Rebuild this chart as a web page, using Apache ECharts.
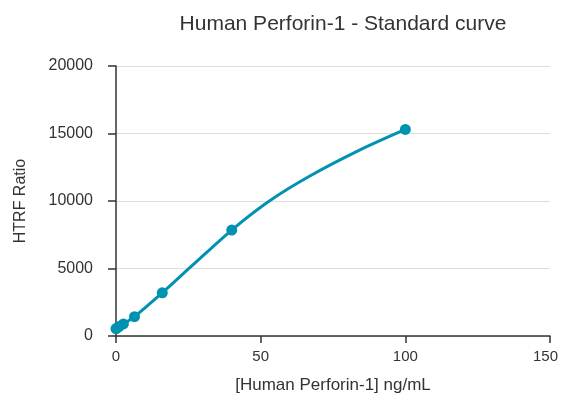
<!DOCTYPE html>
<html><head><meta charset="utf-8">
<script src="https://cdn.jsdelivr.net/npm/echarts@6/dist/echarts.min.js"></script>
<style>html,body{margin:0;padding:0;background:#fff}#c{width:561px;height:401px}</style>
</head><body><div id="c"></div>
<script>
// Measured standards
var concentrations = [0, 0.41, 1.02, 2.56, 6.4, 16, 40, 100];
var htrfRatio = [540, 600, 700, 890, 1430, 3200, 7850, 15300];
// Fitted curve
var curveX = [0, 2.56, 6.4, 16, 26, 40, 53, 67, 84, 100];
var curveY = [540, 890, 1430, 3200, 5150, 7850, 10000, 11850, 13750, 15300];
var xTicks = [0, 50, 100, 150];
var yTicks = [0, 5000, 10000, 15000, 20000];

var chart = echarts.init(document.getElementById('c'));
var points = concentrations.map(function (c, i) { return [c, htrfRatio[i]]; });
var curve = curveX.map(function (c, i) { return [c, curveY[i]]; });
var font = 'Liberation Sans, Arial, sans-serif';
var xMax = xTicks[xTicks.length - 1];
chart.setOption({
  animation: false,
  title: {
    text: 'Human Perforin-1 - Standard curve',
    left: 338, top: 9, textAlign: 'center',
    textStyle: { fontFamily: font, fontSize: 21, fontWeight: 'normal', color: '#333' }
  },
  grid: { left: 116, right: 11, top: 66, bottom: 65, outerBoundsMode: 'none', containLabel: false },
  xAxis: {
    type: 'value', min: xTicks[0], max: xMax, interval: 50,
    name: '[Human Perforin-1] ng/mL', nameLocation: 'middle', nameGap: 41,
    nameTextStyle: { fontFamily: font, fontSize: 17, color: '#333' },
    axisLine: { show: true, onZero: false, lineStyle: { color: '#333', width: 1.5 } },
    axisTick: { show: true, length: 7, lineStyle: { color: '#333', width: 1.5 } },
    axisLabel: { fontFamily: font, fontSize: 15, color: '#333', margin: 13,
      formatter: function (v) { return v === xMax ? '{r|' + v + '}' : String(v); },
      rich: { r: { fontFamily: font, fontSize: 15, color: '#333', padding: [0, 9, 0, 0] } } },
    splitLine: { show: false }
  },
  yAxis: {
    type: 'value', min: yTicks[0], max: yTicks[yTicks.length - 1], interval: 5000,
    name: 'HTRF Ratio', nameLocation: 'middle', nameGap: 87,
    nameTextStyle: { fontFamily: font, fontSize: 16, color: '#333' },
    axisLine: { show: true, onZero: false, lineStyle: { color: '#333', width: 1.5 } },
    axisTick: { show: true, length: 8, lineStyle: { color: '#333', width: 1.5 } },
    axisLabel: { fontFamily: font, fontSize: 16, color: '#333', margin: 23,
      formatter: function (v) { return String(v); } },
    splitLine: { show: true, lineStyle: { color: '#dddddd', width: 1 } }
  },
  series: [{
    type: 'line', data: curve, smooth: 0.3, symbol: 'none',
    lineStyle: { color: '#0092b0', width: 3 }
  }, {
    type: 'scatter', data: points,
    symbol: 'circle', symbolSize: 11,
    itemStyle: { color: '#0092b0', opacity: 1 }
  }]
});
</script></body></html>
